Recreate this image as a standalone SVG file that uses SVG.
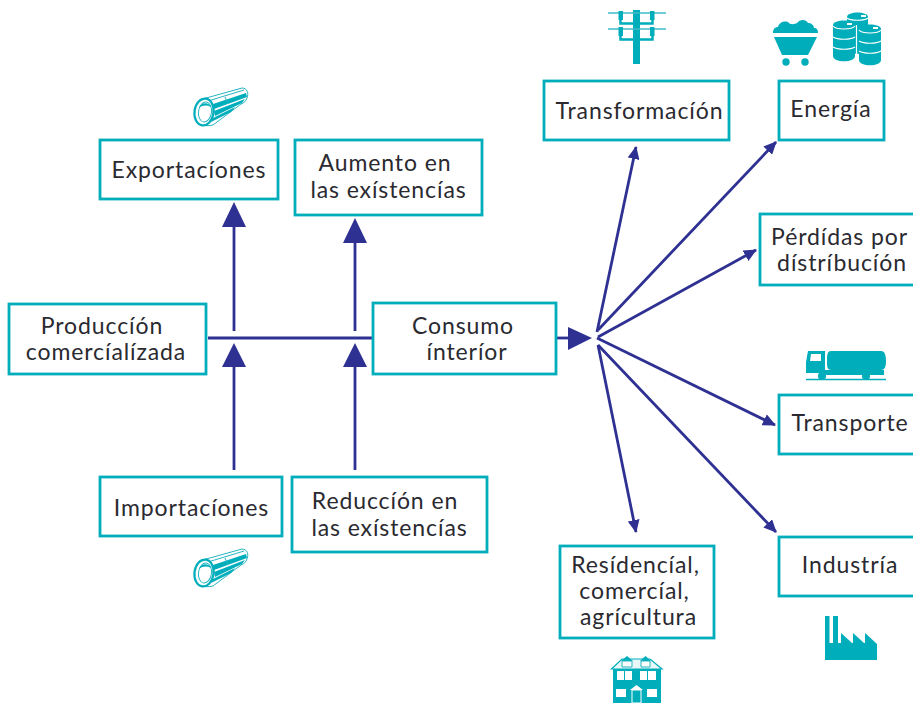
<svg xmlns="http://www.w3.org/2000/svg" width="913" height="703" viewBox="0 0 913 703">
<style>
.box{fill:#fff;stroke:#00adbb;stroke-width:2.8}
.t{font-family:"Lato","Open Sans",sans-serif;font-size:23px;fill:#2a2a30;text-anchor:middle;letter-spacing:.9px}
.c{fill:none;stroke:#2e3192;stroke-width:2.8}
.a{fill:#2e3192}
.i{fill:#00adbb}
.l{stroke:#00adbb;fill:none}
.w{fill:#fff}
.wl{stroke:#fff;fill:none}
</style>
<defs>
<marker id="ah" markerUnits="userSpaceOnUse" markerWidth="14" markerHeight="12" refX="12" refY="6" orient="auto"><path d="M0 0L13 6L0 12Z" fill="#2e3192"/></marker>
<g id="pipe">
<path d="M4 5L47 -7C52 -7 54 -2 52 3C51 6 49 8 46 9L18 30C14 31 9 31 6 29Z" fill="#fff" stroke="#27b5c1" stroke-width="1"/>
<path d="M18 9L51 -2L52 2L19 14ZM19 16L50 4L47 8L20 21ZM18 23L40 12L36 17L16 27Z" fill="#00adbb"/>
<path d="M13 6L49 -5M30 2L33 9" stroke="#27b5c1" stroke-width="1" fill="none"/>
<ellipse cx="9" cy="17" rx="9.500" ry="13.500" transform="rotate(8 9 17)" fill="#fff" stroke="#00adbb" stroke-width="2.200"/>
<ellipse cx="10" cy="17" rx="6.500" ry="10" transform="rotate(8 10 17)" fill="none" stroke="#27b5c1" stroke-width="1"/>
<path d="M4 13C6 7 14 7 16 12C12 10 8 10 4 13Z" fill="#00adbb"/>
</g>
</defs>
<g id="connectors">
<path class="c" d="M208 338H373"/>
<path class="c" d="M234 331V225"/><path class="a" d="M234 202L246 227H222Z"/>
<path class="c" d="M355 331V225"/><path class="a" d="M355 218L367 243H343Z"/>
<path class="c" d="M234 470V366"/><path class="a" d="M234 343L246 367H222Z"/>
<path class="c" d="M355 470V366"/><path class="a" d="M355 343L367 367H343Z"/>
<path class="c" d="M557 338H572"/><path class="a" d="M568 327L592 338L568 350Z"/>
<g marker-end="url(#ah)">
<path class="c" d="M597 332L636 147"/>
<path class="c" d="M598 330L776 142"/>
<path class="c" d="M598 337L756 250"/>
<path class="c" d="M597 338L775 425"/>
<path class="c" d="M598 345L776 532"/>
<path class="c" d="M598 345L636 532"/>
</g>
</g>
<g id="n-exportaciones"><rect class="box" x="100" y="140" width="178" height="59"/><text class="t" x="189" y="178">Exportacíones</text></g>
<g id="n-aumento"><rect class="box" x="295" y="140" width="187" height="75"/><text class="t" x="385" y="171">Aumento en</text><text class="t" x="388.500" y="198">las exístencías</text></g>
<g id="n-produccion"><rect class="box" x="9" y="304" width="197" height="70"/><text class="t" x="102" y="334">Produccíón</text><text class="t" x="106" y="360">comercíalízada</text></g>
<g id="n-consumo"><rect class="box" x="373" y="303" width="183" height="71"/><text class="t" x="463" y="334">Consumo</text><text class="t" x="467" y="360">ínteríor</text></g>
<g id="n-importaciones"><rect class="box" x="100" y="477" width="182" height="59"/><text class="t" x="191.500" y="516">Importacíones</text></g>
<g id="n-reduccion"><rect class="box" x="292" y="477" width="195" height="75"/><text class="t" x="385" y="509">Reduccíón en</text><text class="t" x="389.500" y="536">las exístencías</text></g>
<g id="n-transformacion"><rect class="box" x="544" y="81" width="185" height="59"/><text class="t" x="639.500" y="119">Transformacíón</text></g>
<g id="n-energia"><rect class="box" x="779" y="81" width="105" height="59"/><text class="t" x="831" y="117">Energía</text></g>
<g id="n-perdidas"><rect class="box" x="760" y="214" width="160" height="71"/><text class="t" x="839.500" y="245">Pérdídas por</text><text class="t" x="842" y="271">dístríbucíón</text></g>
<g id="n-transporte"><rect class="box" x="779" y="395" width="140" height="59"/><text class="t" x="850" y="431">Transporte</text></g>
<g id="n-industria"><rect class="box" x="779" y="537" width="140" height="59"/><text class="t" x="850" y="573">Industría</text></g>
<g id="n-residencial"><rect class="box" x="560" y="546" width="154" height="92"/><text class="t" x="635.500" y="573">Resídencíal,</text><text class="t" x="634.500" y="599">comercíal,</text><text class="t" x="638.500" y="625">agrícultura</text></g>
<g id="icon-pipe-top"><use href="#pipe" x="195" y="95"/></g>
<g id="icon-pipe-bottom"><use href="#pipe" x="195" y="556"/></g>
<g id="icon-pole">
<rect class="i" x="633" y="10" width="7" height="54"/>
<path d="M608 13H666M608 29H666" stroke="#3fbcc7" stroke-width="1.500"/>
<rect class="i" x="618.500" y="11" width="4.500" height="9"/><rect class="i" x="650" y="11" width="4.500" height="9"/>
<rect class="i" x="618.500" y="27" width="4.500" height="9"/><rect class="i" x="650" y="27" width="4.500" height="9"/>
<path class="l" stroke-width="2.500" d="M620.500 19V23.500H652.500V19M620.500 35V39.500H652.500V35"/>
</g>
<g id="icon-coal">
<path class="i" d="M773 33C773 29 775 27 778 27C779 22 786 20 789 23C791 25 795 24 797 23C800 19 806 19 808 23C811 23 814 25 814 28C817 28 818 30 818 33Z"/>
<path class="i" d="M774 37H817L808 55H782Z"/>
<circle class="i" cx="786" cy="62" r="3.700"/><circle class="i" cx="805" cy="62" r="3.700"/>
</g>
<g id="icon-barrels">
<path class="i" d="M847 17C847 11 868 11 868 17V50C868 55 847 55 847 50Z"/>
<path class="i" d="M833 25C833 19 855 19 855 25V56C855 63 833 63 833 56Z"/>
<path class="i" d="M859 29C859 23 881 23 881 29V60C881 67 859 67 859 60Z"/>
<path class="wl" d="M833 26C836 30 852 30 855 26M859 30C862 34 878 34 881 30M847 18C850 21 865 21 868 18M833 37C838 40 850 40 855 37M833 47C838 50 850 50 855 47M859 41C864 44 876 44 881 41M859 51C864 54 876 54 881 51M856.500 25V59" stroke-width="1.200"/>
<path class="w" d="M861 15H866V17H861ZM847 23H852V25H847ZM873 27H878V29H873Z"/>
</g>
<g id="icon-truck">
<path class="i" d="M831 351H881C885 351 886 356 886 361C886 366 885 370 881 370H831C827 370 827 366 827 361C827 356 827 351 831 351Z"/>
<path class="i" d="M808 351H825V373H806V362Z"/>
<path class="i" d="M825 370H884V375H825Z"/>
<path class="w" d="M811 354H821V361H810Z"/>
<circle class="i" cx="822" cy="376" r="4"/><circle class="i" cx="866" cy="376" r="4"/>
<path class="l" d="M806 379.500H886" stroke-width="1.500"/>
</g>
<g id="icon-factory">
<path class="i" d="M825 616H829.500V643H833V616H838V643H841V633L852 643H853V633L864 643H865V633L877 644V660H825Z"/>
</g>
<g id="icon-house">
<path d="M611.500 669L622 659H650L662 669Z" fill="#e8f8f9" stroke="#00adbb" stroke-width="1.200"/>
<rect class="i" x="613" y="669" width="48" height="34"/>
<path class="i" d="M621 661L627 656L633 661ZM640 661L645.500 656L651 661Z"/>
<path d="M622 661H632V667H622ZM641 661H650V667H641Z" fill="#fff" stroke="#27b5c1"/>
<path class="w" d="M617 671H624V680H617ZM625 671H632V680H625ZM640 671H647V680H640ZM648 671H656V680H648ZM616 689H626V697H616ZM647 689H657V697H647Z"/>
<path class="w" d="M630 690L636.500 685L643 690Z"/>
<rect class="i" x="632" y="690" width="9" height="13" stroke="#fff" stroke-width="1"/>
</g>
</svg>
